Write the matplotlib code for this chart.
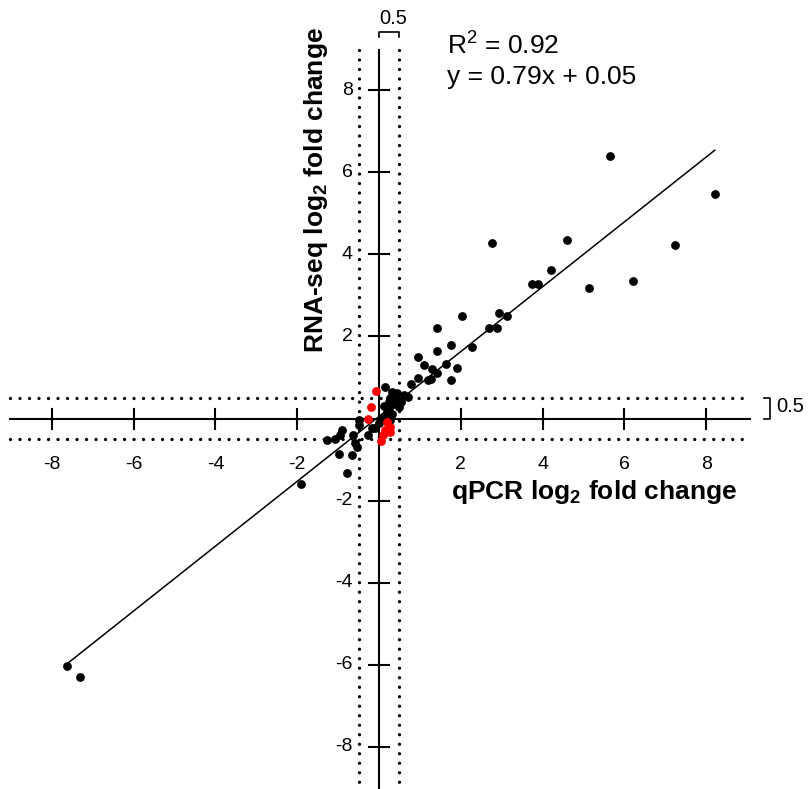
import matplotlib
matplotlib.use("Agg")
import matplotlib.pyplot as plt
import numpy as np

plt.rcParams['font.family'] = ['Liberation Sans', 'DejaVu Sans']
plt.rcParams['mathtext.fontset'] = 'custom'
plt.rcParams['mathtext.rm'] = 'Liberation Sans'
plt.rcParams['mathtext.it'] = 'Liberation Sans:italic'
plt.rcParams['mathtext.bf'] = 'Liberation Sans:bold'

# ---- data (qPCR log2 FC, RNA-seq log2 FC) ----
black_x = [5.65, 8.21, 2.76, 4.59, 7.23, 4.20, 3.75, 3.89, 5.14, 6.20,
           2.03, 2.93, 3.13, 2.70, 2.88, 1.42, 1.42, 1.76, 2.27, 0.96,
           1.09, 1.30, 1.42, 1.63, 1.91, 1.76, 0.96, 1.19, 1.27, 0.78,
           0.15, 0.32, 0.44, 0.60, 0.72, 0.24, 0.36, 0.48, 0.19, 0.32,
           0.07, 0.19, 0.27, -0.01, -0.09, 0.28, 0.40, 0.12, 0.25, 0.55,
           -0.91, -0.95, -1.07, -1.26, -0.63, -0.59, -0.54, -0.50, -0.26, -0.99,
           -0.67, -0.79, -0.18, -0.50, -1.90, -7.64, -7.30]
black_y = [6.40, 5.48, 4.27, 4.36, 4.23, 3.62, 3.28, 3.28, 3.17, 3.36,
           2.50, 2.56, 2.50, 2.21, 2.21, 2.21, 1.65, 1.78, 1.73, 1.49,
           1.31, 1.21, 1.12, 1.33, 1.22, 0.94, 0.99, 0.94, 0.96, 0.83,
           0.77, 0.65, 0.61, 0.57, 0.53, 0.41, 0.36, 0.28, 0.16, 0.12,
           0.02, 0.00, -0.04, -0.12, -0.24, 0.50, 0.47, 0.30, 0.25, 0.40,
           -0.28, -0.40, -0.49, -0.53, -0.40, -0.60, -0.70, -0.17, -0.40, -0.87,
           -0.89, -1.32, -0.24, -0.04, -1.59, -6.03, -6.30]
red_x = [-0.08, -0.19, -0.27, 0.19, 0.27, 0.15, 0.27, 0.06, 0.10]
red_y = [0.67, 0.29, 0.00, -0.08, -0.20, -0.28, -0.34, -0.54, -0.40]

slope = 0.79
intercept = 0.05
r_squared = 0.92
threshold = 0.5
ticks = [-8, -6, -4, -2, 2, 4, 6, 8]

# ---- figure ----
W, H = 809, 789
fig = plt.figure(figsize=(W / 100, H / 100), dpi=100)
ax = fig.add_axes([0, 0, 1, 1])
px_per_x = 40.9
px_per_y = 41.05
x0_px, y0_px = 379, 418.5
ax.set_xlim(-x0_px / px_per_x, (W - x0_px) / px_per_x)
ax.set_ylim((y0_px - H) / px_per_y, y0_px / px_per_y)
ax.axis('off')

xa_min, xa_max = -9.02, 9.07
ya_min, ya_max = -9.2, 8.97

# dotted threshold lines
dot_style = dict(color='black', lw=2.4, linestyle=(0, (0.001, 2.85)),
                 dash_capstyle='round', zorder=1)
for t in (-threshold, threshold):
    ax.plot([xa_min, xa_max], [t, t], **dot_style)
    ax.plot([t, t], [ya_max, ya_min], **dot_style)

# axes lines
ax.plot([xa_min, xa_max], [0, 0], color='black', lw=1.5, zorder=2)
ax.plot([0, 0], [ya_min, ya_max], color='black', lw=1.5, zorder=2)

tl_x = 10 / px_per_y
tl_y = 10 / px_per_x
for t in ticks:
    ax.plot([t, t], [-tl_x, tl_x], color='black', lw=1.5, zorder=2)
    ax.plot([-tl_y, tl_y], [t, t], color='black', lw=1.5, zorder=2)
    ax.text(t, -46 / px_per_y, str(t), ha='center', va='center', fontsize=14)
    ax.text(-26 / px_per_x, t, str(t), ha='right', va='center', fontsize=14)

# regression line
all_x = np.array(black_x + red_x)
xl = np.array([all_x.min(), all_x.max()])
ax.plot(xl, slope * xl + intercept, color='black', lw=1.1, zorder=3)

# points
ax.scatter(black_x, black_y, s=40, color='black', linewidths=0, zorder=4)
ax.scatter(red_x, red_y, s=40, color='#ff0000', linewidths=0, zorder=5)

# axis labels
ax.text((594 - x0_px) / px_per_x, (y0_px - 492) / px_per_y,
        r'qPCR log$_\mathbf{2}$ fold change', ha='center', va='center',
        fontsize=19, fontweight='bold')
ax.text((316 - x0_px) / px_per_x, (y0_px - 190) / px_per_y,
        r'RNA-seq log$_\mathbf{2}$ fold change', ha='center', va='center',
        fontsize=19, fontweight='bold', rotation=90)

# annotations
ax.text((447 - x0_px) / px_per_x, (y0_px - 46) / px_per_y,
        'R$^2$ = %.2f' % r_squared, ha='left', va='center', fontsize=19)
ax.text((447 - x0_px) / px_per_x, (y0_px - 77) / px_per_y,
        'y = %.2fx + %.2f' % (slope, intercept), ha='left', va='center',
        fontsize=19)

# brackets showing threshold width
bt = (y0_px - 32) / px_per_y
bl = 5 / px_per_y
ax.plot([0, 0, threshold, threshold], [bt - bl, bt, bt, bt - bl],
        color='black', lw=1.2, clip_on=False)
ax.text(threshold / 2 + 4 / px_per_x, (y0_px - 19) / px_per_y, '0.5',
        ha='center', va='center', fontsize=14.5)
bx = (770 - x0_px) / px_per_x
bw = 6 / px_per_x
ax.plot([bx - bw, bx, bx, bx - bw], [threshold, threshold, 0, 0],
        color='black', lw=1.2)
ax.text((776 - x0_px) / px_per_x, threshold / 2 + 2 / px_per_y, '0.5',
        ha='left', va='center', fontsize=14.5)

fig.savefig('out.png', dpi=100)
